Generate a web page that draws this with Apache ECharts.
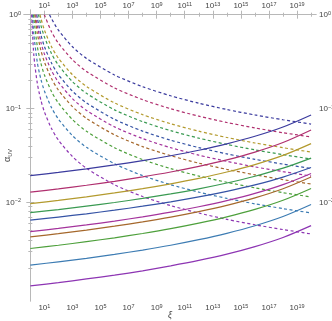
<!DOCTYPE html>
<html><head><meta charset="utf-8">
<script src="https://cdn.jsdelivr.net/npm/echarts@6/dist/echarts.min.js"></script>
<style>html,body{margin:0;padding:0;background:#fff}#c{width:332px;height:321px}</style>
</head><body><div id="c"></div>
<script>
// x positions (xi) for the solid curves
const xiSolid = [1e0, 1e2, 1e4, 1e6, 1e8, 1e10, 1e12, 1e14, 1e16, 1e18, 1e20];
// solid curves alpha_UV (top to bottom)
const solid1  = [0.01927, 0.02089, 0.02280, 0.02510, 0.02792, 0.03145, 0.03600, 0.04209, 0.05066, 0.06361, 0.08547];
const solid2  = [0.01285, 0.01394, 0.01524, 0.01680, 0.01871, 0.02111, 0.02423, 0.02842, 0.03436, 0.04346, 0.05910];
const solid3  = [0.00971, 0.01052, 0.01148, 0.01263, 0.01404, 0.01580, 0.01806, 0.02108, 0.02532, 0.03170, 0.04236];
const solid4  = [0.00778, 0.00840, 0.00913, 0.00999, 0.01104, 0.01233, 0.01396, 0.01610, 0.01900, 0.02317, 0.02969];
const solid5  = [0.00647, 0.00698, 0.00757, 0.00827, 0.00912, 0.01015, 0.01145, 0.01314, 0.01541, 0.01862, 0.02353];
const solid6  = [0.00489, 0.00529, 0.00576, 0.00633, 0.00702, 0.00788, 0.00899, 0.01045, 0.01247, 0.01547, 0.02037];
const solid7  = [0.00430, 0.00465, 0.00508, 0.00559, 0.00621, 0.00698, 0.00798, 0.00931, 0.01118, 0.01398, 0.01865];
const solid8  = [0.00323, 0.00350, 0.00382, 0.00420, 0.00467, 0.00525, 0.00601, 0.00701, 0.00842, 0.01054, 0.01408];
const solid9  = [0.00215, 0.00233, 0.00254, 0.00280, 0.00311, 0.00350, 0.00401, 0.00469, 0.00565, 0.00709, 0.00952];
const solid10 = [0.00129, 0.00140, 0.00153, 0.00168, 0.00187, 0.00211, 0.00241, 0.00281, 0.00338, 0.00423, 0.00566];

// dashed curves: start point (alpha = 1) and values on a common xi grid
const dashedStartXi = [23.33, 9.89, 4.884, 3.809, 2.886, 2.415, 2.064, 1.695, 1.428, 1.237];
const dashedStartAlpha = 1;
const xiDashed = [1.778, 3.162, 5.623, 10, 31.62, 1e2, 1e3, 1e4, 1e6, 1e8, 1e10, 1e12, 1e14, 1e16, 1e18, 1e20];
const dashed1  = [null, null, null, null, 0.912, 0.684, 0.456, 0.342, 0.228, 0.171, 0.1368, 0.114, 0.0977, 0.0855, 0.076, 0.0684];
const dashed2  = [null, null, null, null, 0.6636, 0.4977, 0.3318, 0.2488, 0.1659, 0.1244, 0.0995, 0.083, 0.0711, 0.0622, 0.0553, 0.0498];
const dashed3  = [null, null, 0.9183, 0.6887, 0.4591, 0.3444, 0.2296, 0.1722, 0.1148, 0.0861, 0.0689, 0.0574, 0.0492, 0.043, 0.0383, 0.0344];
const dashed4  = [null, null, 0.7745, 0.5808, 0.3872, 0.2904, 0.1936, 0.1452, 0.0968, 0.0726, 0.0581, 0.0484, 0.0415, 0.0363, 0.0323, 0.029];
const dashed5  = [null, 0.9206, 0.6138, 0.4603, 0.3069, 0.2301, 0.1534, 0.1151, 0.0767, 0.0575, 0.046, 0.0384, 0.0329, 0.0288, 0.0256, 0.023];
const dashed6  = [null, 0.7659, 0.5106, 0.383, 0.2553, 0.1915, 0.1277, 0.0957, 0.0638, 0.0479, 0.0383, 0.0319, 0.0274, 0.0239, 0.0213, 0.0191];
const dashed7  = [null, 0.6294, 0.4196, 0.3147, 0.2098, 0.1574, 0.1049, 0.0787, 0.0525, 0.0393, 0.0315, 0.0262, 0.0225, 0.0197, 0.0175, 0.0157];
const dashed8  = [0.9163, 0.4581, 0.3054, 0.2291, 0.1527, 0.1145, 0.0764, 0.0573, 0.0382, 0.0286, 0.0229, 0.0191, 0.0164, 0.0143, 0.0127, 0.01145];
const dashed9  = [0.6183, 0.3091, 0.2061, 0.1546, 0.103, 0.0773, 0.0515, 0.0386, 0.0258, 0.0193, 0.01546, 0.01288, 0.01104, 0.00966, 0.00859, 0.00773];
const dashed10 = [0.3699, 0.1849, 0.1233, 0.0925, 0.0616, 0.0462, 0.0308, 0.0231, 0.01541, 0.01156, 0.00925, 0.00771, 0.0066, 0.00578, 0.00514, 0.00462];

// tick labels (powers of ten)
const xLabelExps = [1, 3, 5, 7, 9, 11, 13, 15, 17, 19];
const xMinorExps = [0, 2, 4, 6, 8, 10, 12, 14, 16, 18, 20];
const yLabelExps = [0, -1, -2];
const yMinorMult = [2, 3, 4, 5, 6, 7, 8, 9];
const yMinorDecades = [-3, -2, -1];

const colors = ['#3b3b9e', '#b0306f', '#b39a2e', '#3a9a52', '#3553a5', '#a4339c', '#a5682c', '#4ea03c', '#3d7cb3', '#8d35b3'];

const X_MIN = -0.45, X_MAX = 20.35, Y_MIN = -3.05, Y_MAX = 0.05;
const FONT = 'Liberation Sans';
const AX = '#b8b8b8', TXT = '#444';

const rich = {
  b: {fontSize: 8, color: TXT, fontFamily: FONT, lineHeight: 9, verticalAlign: 'bottom'},
  s: {fontSize: 5.5, color: TXT, fontFamily: FONT, lineHeight: 4, verticalAlign: 'top'}
};
function powLabel(v) {
  const n = Math.round(v);
  return '{b|10}{s|' + (n < 0 ? '\u2212' + (-n) : n) + '}';
}
const yMinor = [];
yMinorDecades.forEach(d => yMinorMult.forEach(k => yMinor.push(Math.log10(k * Math.pow(10, d)))));

function xAx(grid, pos, major) {
  return {
    type: 'value', gridIndex: grid, position: pos, min: X_MIN, max: X_MAX,
    axisLine: {show: major, lineStyle: {color: AX, width: 1}},
    axisTick: {show: true, inside: true, length: major ? 4 : 2, customValues: major ? xLabelExps : xMinorExps, lineStyle: {color: AX}},
    axisLabel: major ? {show: true, customValues: xLabelExps, formatter: powLabel, rich: rich, margin: pos === 'top' ? 0 : 2} : {show: false},
    splitLine: {show: false},
    name: (major && pos === 'bottom') ? '\u03be' : '',
    nameLocation: 'middle', nameGap: 10, nameMoveOverlap: false,
    nameTextStyle: {fontFamily: FONT, fontSize: 9, color: TXT, fontStyle: 'italic'}
  };
}
function yAx(grid, pos, major) {
  return {
    type: 'value', gridIndex: grid, position: pos, min: Y_MIN, max: Y_MAX,
    axisLine: {show: major, lineStyle: {color: AX, width: 1}},
    axisTick: {show: true, inside: true, length: major ? 4 : 2, customValues: major ? yLabelExps : yMinor, lineStyle: {color: AX}},
    axisLabel: major ? {show: true, customValues: yLabelExps, formatter: powLabel, rich: rich, margin: 3} : {show: false},
    splitLine: {show: false},
    name: (major && pos === 'left') ? '{a|\u03b1}{u|UV}' : '',
    nameLocation: 'middle', nameGap: 11, nameRotate: 90, nameMoveOverlap: false,
    nameTextStyle: {rich: {
      a: {fontFamily: FONT, fontSize: 9, color: TXT, lineHeight: 10, verticalAlign: 'top'},
      u: {fontFamily: FONT, fontSize: 5.5, color: TXT, lineHeight: 5, verticalAlign: 'bottom'}
    }}
  };
}

const series = [];
const dashedSets = [dashed1, dashed2, dashed3, dashed4, dashed5, dashed6, dashed7, dashed8, dashed9, dashed10];
const solidSets = [solid1, solid2, solid3, solid4, solid5, solid6, solid7, solid8, solid9, solid10];
dashedSets.forEach((arr, i) => {
  const pts = [[Math.log10(dashedStartXi[i]), Math.log10(dashedStartAlpha)]];
  arr.forEach((a, j) => { if (a != null) pts.push([Math.log10(xiDashed[j]), Math.log10(a)]); });
  series.push({type: 'line', xAxisIndex: 0, yAxisIndex: 0, data: pts, symbol: 'none', smooth: 0.25,
    lineStyle: {color: colors[i], width: 1.2, type: [3, 2.5]}, silent: true, animation: false, z: 2});
});
solidSets.forEach((arr, i) => {
  series.push({type: 'line', xAxisIndex: 0, yAxisIndex: 0, data: arr.map((a, j) => [Math.log10(xiSolid[j]), Math.log10(a)]),
    symbol: 'none', smooth: 0.3, lineStyle: {color: colors[i], width: 1.2}, silent: true, animation: false, z: 3});
});

const chart = echarts.init(document.getElementById('c'), null, {renderer: 'canvas'});
const gridBox = {left: 24, right: 16, top: 10, bottom: 20, containLabel: false, outerBoundsMode: 'none'};
chart.setOption({
  animation: false,
  backgroundColor: '#fff',
  grid: [Object.assign({}, gridBox), Object.assign({}, gridBox)],
  xAxis: [xAx(0, 'bottom', true), xAx(0, 'top', true), xAx(1, 'bottom', false), xAx(1, 'top', false)],
  yAxis: [yAx(0, 'left', true), yAx(0, 'right', true), yAx(1, 'left', false), yAx(1, 'right', false)],
  series: series
});
</script>
</body></html>
